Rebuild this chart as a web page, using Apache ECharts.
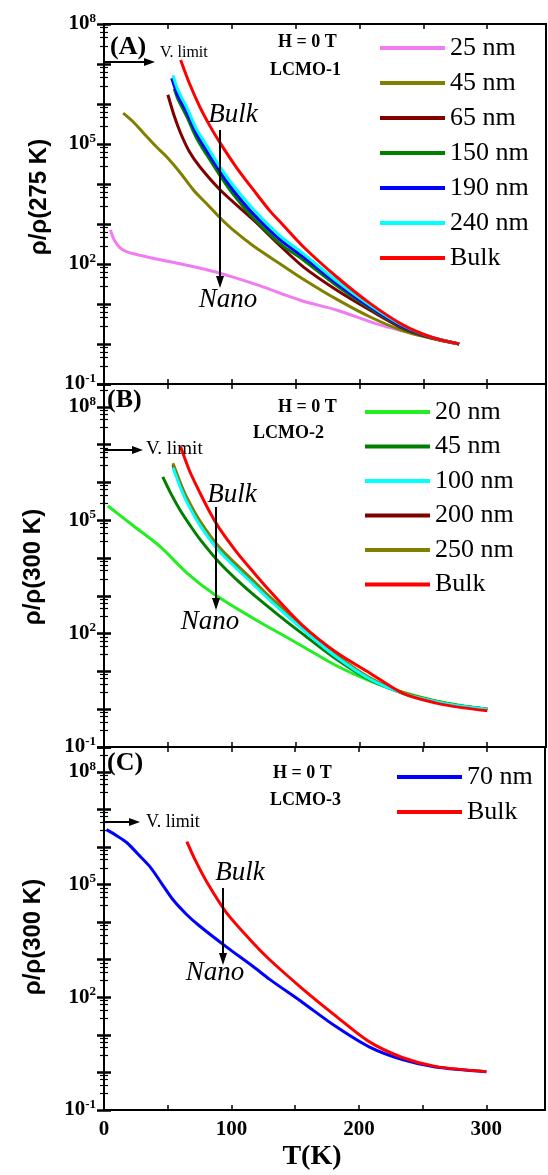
<!DOCTYPE html>
<html>
<head>
<meta charset="utf-8">
<script src="https://cdn.jsdelivr.net/npm/echarts@6/dist/echarts.min.js"></script>
<style>
html, body { margin: 0; padding: 0; background: #fff; }
#chart { width: 548px; height: 1175px; }
</style>
</head>
<body>
<div id="chart"></div>
<script>
// (A) LCMO-1, rho/rho(275 K)
var tA25 = [5, 8, 12, 18, 28, 45, 65, 85, 101, 120, 138, 156, 182, 216, 250, 278];
var rA25 = [710, 400, 265, 200, 166, 126, 93, 66, 47, 30, 18.6, 11.7, 7.1, 3.0, 1.6, 1.0];
var tA45 = [15, 23, 31, 41, 49, 60, 70, 80, 91, 101, 117, 138, 156, 182, 208, 234, 256, 278];
var rA45 = [5.9e5, 3.55e5, 1.86e5, 8.5e4, 4.8e4, 1.86e4, 7.1e3, 3.3e3, 1.41e3, 710, 282, 100, 41.7, 13.2, 4.8, 2.14, 1.4, 1.0];
var tA65 = [50, 55, 60, 67, 75, 91, 117, 138, 156, 182, 208, 234, 256, 278];
var rA65 = [1.7e6, 5.0e5, 1.86e5, 6.3e4, 2.7e4, 7.1e3, 1.26e3, 282, 85, 22.4, 7.1, 2.45, 1.41, 1.0];
var tA150 = [55, 58, 65, 72, 80, 91, 101, 117, 138, 156, 182, 208, 234, 256, 278];
var rA150 = [2.4e6, 1.3e6, 4.7e5, 1.5e5, 5.6e4, 1.6e4, 5.6e3, 1.41e3, 320, 126, 29, 7.9, 2.6, 1.45, 1.0];
var tA190 = [53, 58, 65, 72, 80, 91, 101, 117, 138, 156, 182, 208, 234, 256, 278];
var rA190 = [4.4e6, 1.58e6, 5.9e5, 1.9e5, 7.1e4, 2.0e4, 7.1e3, 1.78e3, 400, 151, 33, 8.5, 2.7, 1.48, 1.0];
var tA240 = [54, 58, 65, 72, 80, 91, 101, 117, 138, 156, 182, 208, 234, 256, 278];
var rA240 = [5.2e6, 2.2e6, 7.9e5, 2.5e5, 9.5e4, 2.6e4, 9.3e3, 2.3e3, 500, 182, 38, 9.5, 2.9, 1.5, 1.0];
var tABulk = [60, 67, 75, 83, 91, 104, 117, 130, 138, 156, 182, 208, 234, 256, 278];
var rABulk = [1.26e7, 3.2e6, 8.5e5, 2.8e5, 1.05e5, 2.5e4, 7.1e3, 2.1e3, 1.12e3, 270, 48, 10.5, 3.0, 1.5, 1.0];

// (B) LCMO-2, rho/rho(300 K)
var tB20 = [3, 12, 23, 44, 65, 86, 117, 130, 156, 182, 208, 234, 260, 280, 300];
var rB20 = [2.4e5, 1.38e5, 7.1e4, 2.0e4, 4.0e3, 1.12e3, 251, 141, 45, 14.1, 5.6, 2.8, 1.66, 1.26, 1.0];
var tB45 = [46, 53, 60, 67, 75, 91, 104, 117, 138, 156, 182, 208, 234, 260, 280, 300];
var rB45 = [1.4e6, 4.6e5, 1.74e5, 7.6e4, 3.16e4, 7.1e3, 2.63e3, 1.07e3, 282, 95, 20.9, 6.0, 2.63, 1.58, 1.2, 1.0];
var tB100 = [54, 60, 65, 75, 91, 117, 130, 156, 182, 208, 234, 260, 280, 300];
var rB100 = [2.45e6, 7.1e5, 2.95e5, 7.4e4, 1.41e4, 2.0e3, 760, 126, 24, 6.3, 2.63, 1.58, 1.2, 1.0];
var tB200 = [54, 60, 65, 75, 91, 117, 130, 156, 182, 208, 234, 260, 280, 300];
var rB200 = [2.9e6, 8.5e5, 3.5e5, 8.9e4, 1.7e4, 2.4e3, 870, 140, 26, 6.6, 2.7, 1.6, 1.2, 1.0];
var tB250 = [54, 60, 65, 75, 91, 117, 130, 156, 182, 208, 234, 260, 280, 300];
var rB250 = [3.2e6, 9.3e5, 3.85e5, 9.6e4, 1.8e4, 2.5e3, 920, 148, 27, 6.8, 2.75, 1.62, 1.2, 1.0];
var tBBulk = [60, 67, 75, 83, 91, 104, 117, 130, 156, 182, 208, 234, 260, 280, 300];
var rBBulk = [8.7e6, 2.0e6, 5.4e5, 1.6e5, 5.6e4, 1.41e4, 4.2e3, 1.32e3, 158, 31.6, 9.1, 2.63, 1.45, 1.1, 0.91];

// (C) LCMO-3, rho/rho(300 K)
var tC70 = [2, 10, 18, 27, 36, 45, 54, 65, 75, 96, 117, 130, 156, 182, 208, 234, 260, 300];
var rC70 = [2.9e6, 2.0e6, 1.3e6, 6.3e5, 3.0e5, 1.1e5, 4.0e4, 1.58e4, 7.9e3, 2.2e3, 660, 300, 72, 16.6, 4.8, 2.2, 1.4, 1.05];
var tCBulk = [65, 72, 81, 96, 117, 130, 156, 182, 208, 234, 260, 300];
var rCBulk = [1.4e6, 4.2e5, 1.12e5, 1.8e4, 2.8e3, 1.0e3, 166, 31.6, 6.6, 2.5, 1.45, 1.05];

var legendA = ['25 nm', '45 nm', '65 nm', '150 nm', '190 nm', '240 nm', 'Bulk'];
var legendB = ['20 nm', '45 nm', '100 nm', '200 nm', '250 nm', 'Bulk'];
var legendC = ['70 nm', 'Bulk'];
var yTitles = ['\u03c1/\u03c1(275 K)', '\u03c1/\u03c1(300 K)', '\u03c1/\u03c1(300 K)'];
var yTop = [1e8, 4.0e8, 4.6e8];   // box tops sit a bit above 10^8 in B and C

var serif = 'Liberation Serif, Times New Roman, serif';

function line(panel, name, t, r, color, z) {
    return {
	name: panel + ':' + name,
	type: 'line',
	xAxisIndex: panel == 'A' ? 0 : panel == 'B' ? 2 : 4,
	yAxisIndex: panel == 'A' ? 0 : panel == 'B' ? 2 : 4,
	data: t.map(function (x, i) { return [x, r[i]]; }),
	symbol: 'none',
	smooth: 0.3,
	lineStyle: {color: color, width: 3},
	itemStyle: {color: color},
	z: z
    };
}

var series = [
    line('A', '25 nm', tA25, rA25, '#f07cf0', 2),
    line('A', '45 nm', tA45, rA45, '#808000', 3),
    line('A', '65 nm', tA65, rA65, '#800000', 4),
    line('A', '150 nm', tA150, rA150, '#008000', 5),
    line('A', '190 nm', tA190, rA190, '#0000ff', 6),
    line('A', '240 nm', tA240, rA240, '#00ffff', 7),
    line('A', 'Bulk', tABulk, rABulk, '#ff0000', 8),
    line('B', '20 nm', tB20, rB20, '#22ee22', 2),
    line('B', '45 nm', tB45, rB45, '#008000', 3),
    line('B', '100 nm', tB100, rB100, '#00ffff', 6),
    line('B', '200 nm', tB200, rB200, '#800000', 4),
    line('B', '250 nm', tB250, rB250, '#808000', 5),
    line('B', 'Bulk', tBBulk, rBBulk, '#ff0000', 8),
    line('C', '70 nm', tC70, rC70, '#0000ff', 3),
    line('C', 'Bulk', tCBulk, rCBulk, '#ff0000', 4)
];

var grids = [
    {left: 104, top: 24, width: 442, height: 360},
    {left: 104, top: 384, width: 442, height: 363},
    {left: 104, top: 747, width: 442, height: 363}
];

var xAxes = [], yAxes = [];
grids.forEach(function (g, i) {
    var last = i == 2;
    xAxes.push({
	type: 'value', gridIndex: i, position: 'bottom', min: 0, max: 346, interval: 50,
	axisLine: {lineStyle: {color: '#000', width: 2}},
	axisTick: {inside: true, length: 5, lineStyle: {color: '#000', width: 1.5}},
	splitLine: {show: false},
	axisLabel: {
	    show: last, margin: 9, color: '#000', fontFamily: serif, fontWeight: 'bold', fontSize: 21,
	    formatter: function (v) { return v % 100 === 0 ? String(v) : ''; }
	}
    });
    xAxes.push({
	type: 'value', gridIndex: i, position: 'top', min: 0, max: 346, interval: 50,
	axisLine: {show: false},
	axisTick: {inside: true, length: 5, lineStyle: {color: '#000', width: 1.5}},
	splitLine: {show: false}, axisLabel: {show: false}
    });
    var ytick = {inside: true, length: 7, lineStyle: {color: '#000', width: 2.5}};
    var ymin = {show: true, splitNumber: 5, length: 4, lineStyle: {color: '#000', width: 1.2}};
    yAxes.push({
	type: 'log', logBase: 10, gridIndex: i, position: 'left', min: 0.1, max: yTop[i], splitNumber: 9,
	axisLine: {lineStyle: {color: '#000', width: 2}},
	axisTick: ytick, minorTick: ymin,
	splitLine: {show: false},
	axisLabel: {
	    margin: 8, color: '#000',
	    formatter: function (v) {
		var e = Math.log10(v), r = Math.round(e);
		if (Math.abs(e - r) > 1e-6 || (r + 1) % 3 !== 0) return '';
		return '{b|10}{s|' + r + '}';
	    },
	    rich: {
		b: {fontFamily: serif, fontWeight: 'bold', fontSize: 21, color: '#000', lineHeight: 24},
		s: {fontFamily: serif, fontWeight: 'bold', fontSize: 13, color: '#000', verticalAlign: 'top', lineHeight: 14}
	    }
	}
    });
    yAxes.push({
	type: 'log', logBase: 10, gridIndex: i, position: 'right', min: 0.1, max: yTop[i], splitNumber: 9,
	axisLine: {show: false},
	axisTick: ytick, minorTick: ymin,
	splitLine: {show: false}, axisLabel: {show: false}
    });
});

function legend(panel, names, left, top, gap) {
    return {
	orient: 'vertical', left: left, top: top, padding: 0, itemGap: gap,
	itemWidth: 65, itemHeight: 4, icon: 'rect', itemTextGap: 7,
	selectedMode: false,
	data: names.map(function (n) { return panel + ':' + n; }),
	formatter: function (n) { return n.split(':')[1]; },
	textStyle: {fontFamily: serif, fontSize: 26, lineHeight: 26, color: '#000'}
    };
}

function txt(s, x, y, font, align, rot) {
    return {
	type: 'text', x: x, y: y, rotation: rot || 0, z: 100,
	style: {text: s, font: font, fill: '#000', align: align || 'left', verticalAlign: 'middle',
		textAlign: align || 'left', textVerticalAlign: 'middle'}
    };
}
function arrowRight(x1, x2, y) {
    return [
	{type: 'line', z: 100, shape: {x1: x1, y1: y, x2: x2 - 6, y2: y}, style: {stroke: '#000', lineWidth: 2}},
	{type: 'polygon', z: 100, shape: {points: [[x2, y], [x2 - 11, y - 4], [x2 - 11, y + 4]]}, style: {fill: '#000'}}
    ];
}
function arrowDown(x, y1, y2) {
    return [
	{type: 'line', z: 100, shape: {x1: x, y1: y1, x2: x, y2: y2 - 6}, style: {stroke: '#000', lineWidth: 2}},
	{type: 'polygon', z: 100, shape: {points: [[x, y2], [x - 4, y2 - 12], [x + 4, y2 - 12]]}, style: {fill: '#000'}}
    ];
}

var bold = function (n) { return 'bold ' + n + 'px ' + serif; };
var ital = function (n) { return 'italic ' + n + 'px ' + serif; };
var plain = function (n) { return n + 'px ' + serif; };
var sans = 'bold 24px Liberation Sans, Arial, sans-serif';

var graphics = [].concat(
    [txt('(A)', 110, 47, bold(26)), txt('V. limit', 160, 53, plain(16)),
     txt('H = 0 T', 278, 42, bold(18)), txt('LCMO-1', 270, 70, bold(18)),
     txt('Bulk', 233, 115, ital(27), 'center'), txt('Nano', 228, 300, ital(27), 'center')],
    arrowRight(104, 155, 62), arrowDown(220, 130, 288),
    [txt('(B)', 107, 400, bold(26)), txt('V. limit', 146, 449, plain(19)),
     txt('H = 0 T', 278, 407, bold(18)), txt('LCMO-2', 253, 433, bold(18)),
     txt('Bulk', 232, 495, ital(27), 'center'), txt('Nano', 210, 622, ital(27), 'center')],
    arrowRight(104, 143, 450), arrowDown(216, 507, 610),
    [txt('(C)', 107, 763, bold(26)), txt('V. limit', 146, 822, plain(18)),
     txt('H = 0 T', 273, 773, bold(18)), txt('LCMO-3', 270, 800, bold(18)),
     txt('Bulk', 240, 873, ital(27), 'center'), txt('Nano', 215, 973, ital(27), 'center')],
    arrowRight(104, 140, 822), arrowDown(223, 888, 965),
    [txt(yTitles[0], 39, 197, sans, 'center', Math.PI / 2),
     txt(yTitles[1], 33, 567, sans, 'center', Math.PI / 2),
     txt(yTitles[2], 33, 937, sans, 'center', Math.PI / 2),
     txt('T(K)', 312, 1157, bold(28), 'center')]
);

var chart = echarts.init(document.getElementById('chart'), null, {renderer: 'canvas'});
chart.setOption({
    animation: false,
    backgroundColor: '#fff',
    grid: grids.map(function (g) {
	return Object.assign({show: true, borderColor: '#000', borderWidth: 2, backgroundColor: 'transparent'}, g);
    }),
    xAxis: xAxes,
    yAxis: yAxes,
    legend: [
	legend('A', legendA, 380, 35, 9),
	legend('B', legendB, 365, 399, 8.5),
	legend('C', legendC, 397, 764, 9)
    ],
    series: series,
    graphic: graphics
});
</script>
</body>
</html>
